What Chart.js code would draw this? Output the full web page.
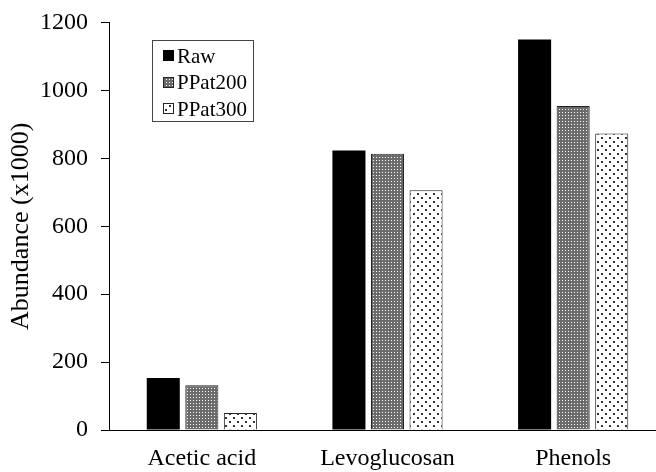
<!DOCTYPE html>
<html>
<head>
<meta charset="utf-8">
<script src="https://cdn.jsdelivr.net/npm/chart.js@4"></script>
<style>
  html, body { margin: 0; padding: 0; background: #fff; overflow: hidden; }
  #wrap { width: 656px; height: 472px; overflow: hidden; }
</style>
</head>
<body>
<div id="wrap"><canvas id="chart" width="672" height="472"></canvas></div>
<script>
// data
const categories = ['Acetic acid', 'Levoglucosan', 'Phenols'];
const seriesNames = ['Raw', 'PPat200', 'PPat300'];
const rawValues = [153, 823, 1150];
const ppat200Values = [132, 814, 954];
const ppat300Values = [50, 706, 873];
const yMin = 0, yMax = 1200, yStep = 200;

const serif = "'Liberation Serif', 'Times New Roman', serif";

function makePattern(size, draw) {
  let c = document.createElement('canvas');
  c.width = size; c.height = size;
  let ctx = c.getContext('2d');
  draw(ctx);
  return document.getElementById('chart').getContext('2d').createPattern(c, 'repeat');
}

// grey with white specks
let darkGrid = makePattern(3, ctx => {
  ctx.fillStyle = '#6b6b6b';
  ctx.fillRect(0, 0, 3, 3);
  ctx.fillStyle = '#fff';
  ctx.fillRect(1, 1, 1, 1);
});

// white with staggered dots
let dots = makePattern(8, ctx => {
  ctx.fillStyle = '#fff';
  ctx.fillRect(0, 0, 8, 8);
  ctx.fillStyle = '#333';
  ctx.fillRect(1, 1, 2, 2);
  ctx.fillRect(5, 5, 2, 2);
});

const boxLegend = {
  id: 'boxLegend',
  afterDraw(chart) {
    let ctx = chart.ctx;
    ctx.save();
    ctx.strokeStyle = '#444';
    ctx.lineWidth = 1;
    ctx.strokeRect(152.5, 40.5, 101, 81);
    ctx.font = '21px ' + serif;
    ctx.textBaseline = 'middle';
    chart.data.datasets.forEach((ds, i) => {
      let y = 56 + i * 26.5;
      let top = Math.round(y - 6);
      ctx.fillStyle = ds.backgroundColor;
      ctx.fillRect(163, top, 11, 11);
      if (i > 0) {
        ctx.strokeStyle = '#222';
        ctx.strokeRect(163.5, top + 0.5, 10, 10);
      }
      ctx.fillStyle = '#000';
      ctx.fillText(ds.label, 177, y + 1);
    });
    ctx.restore();
  }
};

new Chart(document.getElementById('chart'), {
  type: 'bar',
  data: {
    labels: categories,
    datasets: [
      { label: seriesNames[0], data: rawValues, backgroundColor: '#000', borderWidth: 0 },
      { label: seriesNames[1], data: ppat200Values, backgroundColor: darkGrid, borderColor: '#222', borderWidth: 1 },
      { label: seriesNames[2], data: ppat300Values, backgroundColor: dots, borderColor: '#222', borderWidth: 1 }
    ]
  },
  options: {
    responsive: false,
    animation: false,
    layout: { padding: { top: 0, right: 6, left: 0, bottom: 0 } },
    datasets: { bar: { categoryPercentage: 0.623, barPercentage: 0.857 } },
    plugins: { legend: { display: false }, tooltip: { enabled: false } },
    scales: {
      x: {
        grid: { display: true, drawOnChartArea: false, drawTicks: false },
        border: { color: '#000', width: 1 },
        ticks: { color: '#000', font: { family: serif, size: 24 }, padding: 14 },
        afterFit(scale) { scale.height = 42; }
      },
      y: {
        min: yMin, max: yMax,
        ticks: { stepSize: yStep, color: '#000', font: { family: serif, size: 24, lineHeight: 0.8 }, padding: 13,
                 callback: v => String(v) },
        grid: { drawOnChartArea: false, tickLength: 8, color: '#000' },
        border: { color: '#000', width: 1 },
        title: { display: true, text: 'Abundance (x1000)', color: '#000', font: { family: serif, size: 26 }, padding: { top: 6, bottom: 0 } },
        afterFit(scale) { scale.width = 109; }
      }
    }
  },
  plugins: [boxLegend]
});
</script>
</body>
</html>
